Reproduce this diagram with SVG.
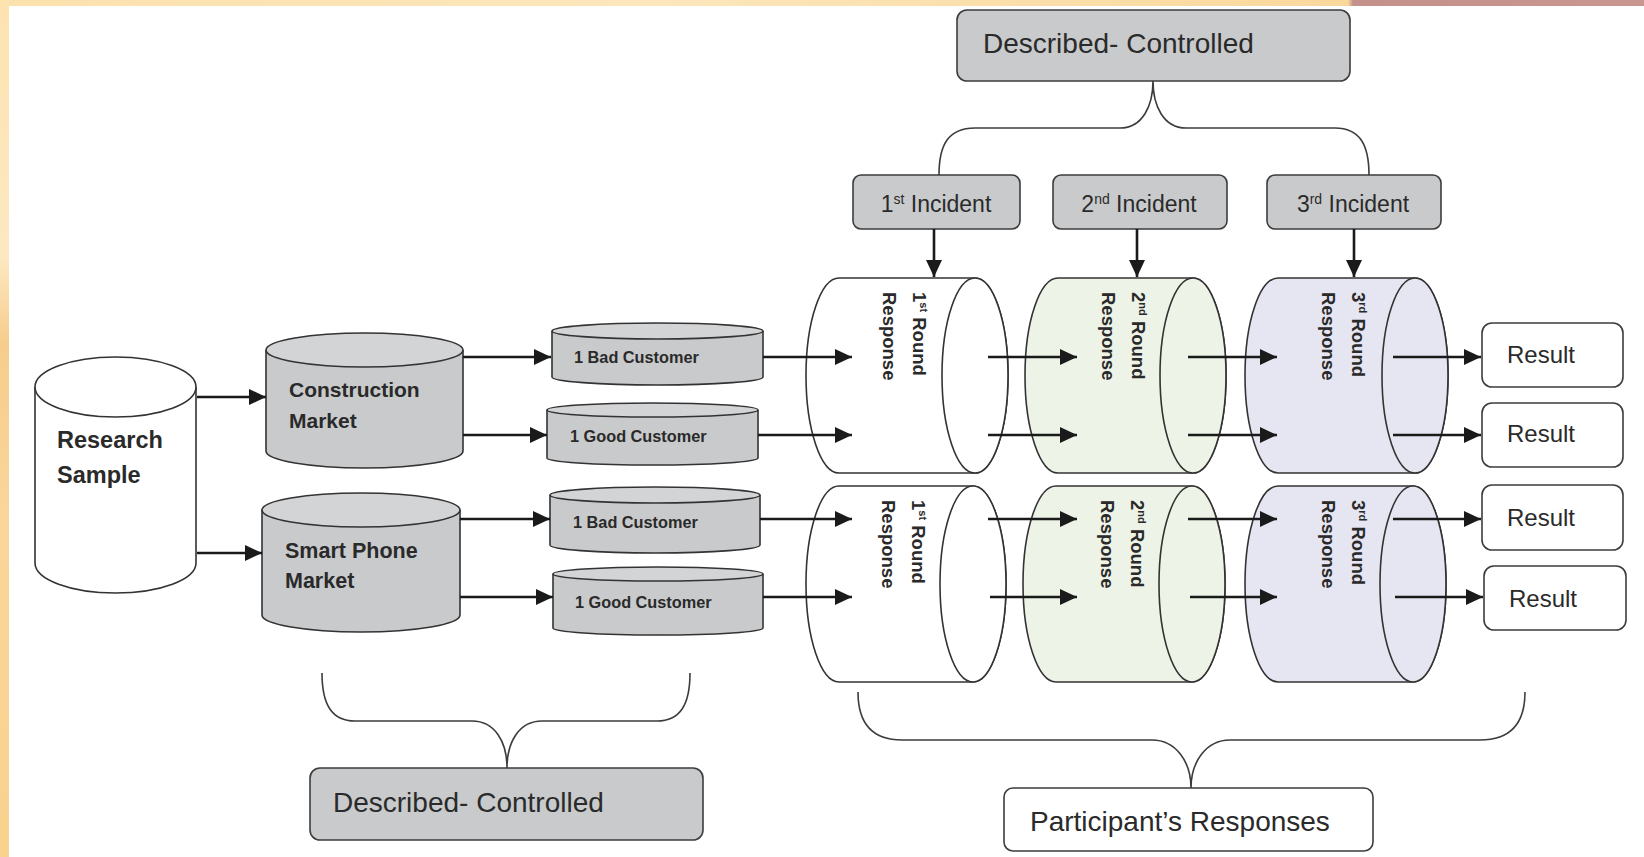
<svg xmlns="http://www.w3.org/2000/svg" width="1644" height="857" viewBox="0 0 1644 857">
<defs>
<linearGradient id="topbar" x1="0" y1="0" x2="1" y2="0">
<stop offset="0" stop-color="#fbe1ad"/><stop offset="0.4" stop-color="#fce6bb"/><stop offset="0.82" stop-color="#f9d89c"/><stop offset="0.823" stop-color="#c4908a"/><stop offset="1" stop-color="#c99690"/>
</linearGradient>
<linearGradient id="leftbar" x1="0" y1="0" x2="0" y2="1">
<stop offset="0" stop-color="#fde3b0"/><stop offset="0.3" stop-color="#fde8c2"/><stop offset="0.4" stop-color="#f6cd8c"/><stop offset="0.6" stop-color="#fad69b"/><stop offset="1" stop-color="#f8d28e"/>
</linearGradient>
<marker id="ah" markerUnits="userSpaceOnUse" markerWidth="18" markerHeight="17" refX="17" refY="8.5" orient="auto">
<path d="M0,0.5 L17,8.5 L0,16.5 z" fill="#1a1a1a"/>
</marker>
<style>
.box{fill:#c9cacc;stroke:#3c3c3c;stroke-width:1.6}
.wbox{fill:#ffffff;stroke:#3c3c3c;stroke-width:1.6}
.cylw{fill:#ffffff;stroke:#333;stroke-width:1.6}
.cylg{fill:#c9cacc;stroke:#333;stroke-width:1.6}
.cylgt{fill:#d3d4d6;stroke:#333;stroke-width:1.6}
.cylgreen{fill:#edf3e6;stroke:#333;stroke-width:1.6}
.cyllav{fill:#e6e6f2;stroke:#333;stroke-width:1.6}
.brace{fill:none;stroke:#3c3c3c;stroke-width:1.6}
.arr{stroke:#1a1a1a;stroke-width:2.6;fill:none;marker-end:url(#ah)}
.t{font-family:"Liberation Sans",Arial,sans-serif;fill:#2a2a2a}
.tb{font-family:"Liberation Sans",Arial,sans-serif;fill:#2a2a2a;font-weight:bold}
</style>
</defs>
<rect x="0" y="0" width="1644" height="857" fill="#ffffff"/>
<rect x="0" y="0" width="1644" height="6" fill="url(#topbar)"/>
<rect x="0" y="0" width="9" height="857" fill="url(#leftbar)"/>

<g id="research-sample">
<path class="cylw" d="M35,387 L35,563 A80.5,30 0 0 0 196,563 L196,387"/>
<ellipse class="cylw" cx="115.5" cy="387" rx="80.5" ry="30"/>
<text class="tb" x="57" y="448" font-size="23.5">Research</text>
<text class="tb" x="57" y="483" font-size="23.5">Sample</text>
</g>

<g id="construction-market">
<path class="cylg" d="M266,350 L266,451 A98.5,17 0 0 0 463,451 L463,350"/>
<ellipse class="cylgt" cx="364.5" cy="350" rx="98.5" ry="17"/>
<text class="tb" x="289" y="397" font-size="21">Construction</text>
<text class="tb" x="289" y="428" font-size="21">Market</text>
</g>

<g id="smartphone-market">
<path class="cylg" d="M262,510 L262,615 A99,17 0 0 0 460,615 L460,510"/>
<ellipse class="cylgt" cx="361" cy="510" rx="99" ry="17"/>
<text class="tb" x="285" y="558" font-size="21.5">Smart Phone</text>
<text class="tb" x="285" y="588" font-size="21.5">Market</text>
</g>

<g id="bad-customer-1">
<path class="cylg" d="M552,331 L552,377 A105.5,8 0 0 0 763,377 L763,331"/>
<ellipse class="cylgt" cx="657.5" cy="331" rx="105.5" ry="8"/>
<text class="tb" x="574" y="363" font-size="16.3">1 Bad Customer</text>
</g>
<g id="good-customer-1">
<path class="cylg" d="M547,410 L547,458 A105.5,7 0 0 0 758,458 L758,410"/>
<ellipse class="cylgt" cx="652.5" cy="410" rx="105.5" ry="7"/>
<text class="tb" x="570" y="442" font-size="16.3">1 Good Customer</text>
</g>
<g id="bad-customer-2">
<path class="cylg" d="M550,495 L550,545 A105,8 0 0 0 760,545 L760,495"/>
<ellipse class="cylgt" cx="655" cy="495" rx="105" ry="8"/>
<text class="tb" x="573" y="528" font-size="16.3">1 Bad Customer</text>
</g>
<g id="good-customer-2">
<path class="cylg" d="M553,574 L553,628 A105,7 0 0 0 763,628 L763,574"/>
<ellipse class="cylgt" cx="658" cy="574" rx="105" ry="7"/>
<text class="tb" x="575" y="608" font-size="16.3">1 Good Customer</text>
</g>

<g id="round1-top">
<path class="cylw" d="M839,278 L975,278 A33,97.5 0 0 1 975,473 L839,473 A33,97.5 0 0 1 839,278 Z"/>
<ellipse class="cylw" cx="975" cy="375.5" rx="33" ry="97.5"/>
<text class="tb" font-size="18.5" transform="translate(913,292) rotate(90)">1<tspan font-size="11" dy="-7">st</tspan><tspan dy="7"> Round</tspan></text>
<text class="tb" font-size="18.5" transform="translate(883,292) rotate(90)">Response</text>
</g>
<g id="round2-top">
<path class="cylgreen" d="M1058,278 L1193,278 A33,97.5 0 0 1 1193,473 L1058,473 A33,97.5 0 0 1 1058,278 Z"/>
<ellipse class="cylgreen" cx="1193" cy="375.5" rx="33" ry="97.5"/>
<text class="tb" font-size="18.5" transform="translate(1132,292) rotate(90)">2<tspan font-size="11" dy="-7">nd</tspan><tspan dy="7"> Round</tspan></text>
<text class="tb" font-size="18.5" transform="translate(1102,292) rotate(90)">Response</text>
</g>
<g id="round3-top">
<path class="cyllav" d="M1278,278 L1415,278 A33,97.5 0 0 1 1415,473 L1278,473 A33,97.5 0 0 1 1278,278 Z"/>
<ellipse class="cyllav" cx="1415" cy="375.5" rx="33" ry="97.5"/>
<text class="tb" font-size="18.5" transform="translate(1352,292) rotate(90)">3<tspan font-size="11" dy="-7">rd</tspan><tspan dy="7"> Round</tspan></text>
<text class="tb" font-size="18.5" transform="translate(1322,292) rotate(90)">Response</text>
</g>

<g id="round1-bottom">
<path class="cylw" d="M839,486 L973,486 A33,98 0 0 1 973,682 L839,682 A33,98 0 0 1 839,486 Z"/>
<ellipse class="cylw" cx="973" cy="584" rx="33" ry="98"/>
<text class="tb" font-size="18.5" transform="translate(912,500) rotate(90)">1<tspan font-size="11" dy="-7">st</tspan><tspan dy="7"> Round</tspan></text>
<text class="tb" font-size="18.5" transform="translate(882,500) rotate(90)">Response</text>
</g>
<g id="round2-bottom">
<path class="cylgreen" d="M1056,486 L1192,486 A33,98 0 0 1 1192,682 L1056,682 A33,98 0 0 1 1056,486 Z"/>
<ellipse class="cylgreen" cx="1192" cy="584" rx="33" ry="98"/>
<text class="tb" font-size="18.5" transform="translate(1131,500) rotate(90)">2<tspan font-size="11" dy="-7">nd</tspan><tspan dy="7"> Round</tspan></text>
<text class="tb" font-size="18.5" transform="translate(1101,500) rotate(90)">Response</text>
</g>
<g id="round3-bottom">
<path class="cyllav" d="M1278,486 L1413,486 A33,98 0 0 1 1413,682 L1278,682 A33,98 0 0 1 1278,486 Z"/>
<ellipse class="cyllav" cx="1413" cy="584" rx="33" ry="98"/>
<text class="tb" font-size="18.5" transform="translate(1352,500) rotate(90)">3<tspan font-size="11" dy="-7">rd</tspan><tspan dy="7"> Round</tspan></text>
<text class="tb" font-size="18.5" transform="translate(1322,500) rotate(90)">Response</text>
</g>

<g id="incident1">
<rect class="box" x="853" y="175" width="167" height="54" rx="8"/>
<text class="t" x="936" y="212" font-size="23" text-anchor="middle">1<tspan font-size="14" dy="-8">st</tspan><tspan dy="8"> Incident</tspan></text>
</g>
<g id="incident2">
<rect class="box" x="1053" y="175" width="174" height="54" rx="8"/>
<text class="t" x="1139" y="212" font-size="23" text-anchor="middle">2<tspan font-size="14" dy="-8">nd</tspan><tspan dy="8"> Incident</tspan></text>
</g>
<g id="incident3">
<rect class="box" x="1267" y="175" width="174" height="54" rx="8"/>
<text class="t" x="1353" y="212" font-size="23" text-anchor="middle">3<tspan font-size="14" dy="-8">rd</tspan><tspan dy="8"> Incident</tspan></text>
</g>

<g id="described-top">
<rect class="box" x="957" y="10" width="393" height="71" rx="10"/>
<text class="t" x="983" y="53" font-size="28">Described- Controlled</text>
</g>
<g id="described-bottom">
<rect class="box" x="310" y="768" width="393" height="72" rx="10"/>
<text class="t" x="333" y="812" font-size="28">Described- Controlled</text>
</g>
<g id="participants-responses">
<rect class="wbox" x="1004" y="788" width="369" height="63" rx="9"/>
<text class="t" x="1030" y="831" font-size="28">Participant’s Responses</text>
</g>

<g id="result-1"><rect class="wbox" x="1482" y="323" width="141" height="64" rx="10"/><text class="t" x="1507" y="363" font-size="24">Result</text></g>
<g id="result-2"><rect class="wbox" x="1482" y="403" width="141" height="64" rx="10"/><text class="t" x="1507" y="442" font-size="24">Result</text></g>
<g id="result-3"><rect class="wbox" x="1482" y="485" width="141" height="65" rx="10"/><text class="t" x="1507" y="526" font-size="24">Result</text></g>
<g id="result-4"><rect class="wbox" x="1484" y="566" width="142" height="64" rx="10"/><text class="t" x="1509" y="607" font-size="24">Result</text></g>

<g id="connectors">
<path class="brace" d="M939,175 C939,145 948,128 975,128 L1120,128 C1143,128 1153,105 1153,81 C1153,105 1163,128 1186,128 L1335,128 C1360,128 1369,145 1369,175"/>
<path class="brace" d="M322,673 C322,705 332,721 355,721 L472,721 C495,721 507,742 507,768 C507,742 519,721 542,721 L657,721 C680,721 690,705 690,673"/>
<path class="brace" d="M858,692 C858,724 872,740 902,740 L1152,740 C1176,740 1191,762 1191,788 C1191,762 1206,740 1230,740 L1480,740 C1510,740 1525,724 1525,692"/>

<line class="arr" x1="197" y1="397" x2="266" y2="397"/>
<line class="arr" x1="197" y1="553" x2="262" y2="553"/>
<line class="arr" x1="463" y1="357" x2="551" y2="357"/>
<line class="arr" x1="463" y1="435" x2="547" y2="435"/>
<line class="arr" x1="460" y1="519" x2="550" y2="519"/>
<line class="arr" x1="460" y1="597" x2="553" y2="597"/>

<line class="arr" x1="763" y1="357" x2="852" y2="357"/>
<line class="arr" x1="758" y1="435" x2="852" y2="435"/>
<line class="arr" x1="760" y1="519" x2="852" y2="519"/>
<line class="arr" x1="763" y1="597" x2="852" y2="597"/>

<line class="arr" x1="988" y1="357" x2="1077" y2="357"/>
<line class="arr" x1="988" y1="435" x2="1077" y2="435"/>
<line class="arr" x1="988" y1="519" x2="1077" y2="519"/>
<line class="arr" x1="990" y1="597" x2="1077" y2="597"/>

<line class="arr" x1="1188" y1="357" x2="1277" y2="357"/>
<line class="arr" x1="1188" y1="435" x2="1277" y2="435"/>
<line class="arr" x1="1188" y1="519" x2="1277" y2="519"/>
<line class="arr" x1="1190" y1="597" x2="1277" y2="597"/>

<line class="arr" x1="1393" y1="357" x2="1481" y2="357"/>
<line class="arr" x1="1393" y1="435" x2="1481" y2="435"/>
<line class="arr" x1="1393" y1="519" x2="1481" y2="519"/>
<line class="arr" x1="1395" y1="597" x2="1483" y2="597"/>

<line class="arr" x1="934" y1="229" x2="934" y2="277"/>
<line class="arr" x1="1137" y1="229" x2="1137" y2="277"/>
<line class="arr" x1="1354" y1="229" x2="1354" y2="277"/>
</g>
</svg>
